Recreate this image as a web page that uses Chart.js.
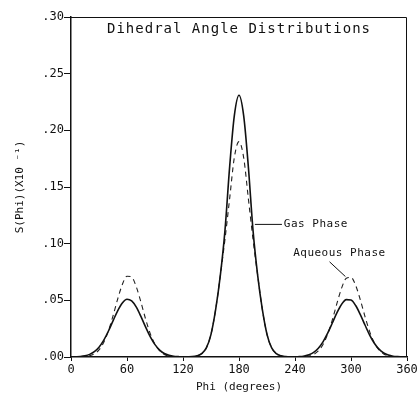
<!DOCTYPE html>
<html>
<head>
<meta charset="utf-8">
<script src="https://cdn.jsdelivr.net/npm/chart.js@4"></script>
<style>
  html, body { margin: 0; padding: 0; background: #fff; }
  #wrap { width: 420px; height: 394px; }
</style>
</head>
<body>
<div id="wrap"><canvas id="dihedralChart" width="420" height="394"></canvas></div>
<script>
// Phi in degrees, 5 degree steps
const phi = [0,5,10,15,20,25,30,35,40,45,50,55,60,65,70,75,80,85,90,95,100,105,110,115,120,
  125,130,135,140,145,150,155,160,165,170,175,180,185,190,195,200,205,210,215,220,225,230,235,240,
  245,250,255,260,265,270,275,280,285,290,295,300,305,310,315,320,325,330,335,340,345,350,355,360];

const gasPhase = [0.0001,0.0002,0.0004,0.001,0.0023,0.0047,0.0087,0.0147,0.0227,0.0319,0.0408,0.0477,0.051,
  0.0495,0.044,0.0356,0.0263,0.0177,0.0109,0.0061,0.0031,0.0015,0.0006,0.0003,0.0001,
  0.0002,0.0003,0.001,0.003,0.008,0.02,0.042,0.072,0.112,0.168,0.213,0.231,0.213,0.168,0.112,0.072,0.042,0.02,0.008,0.003,0.001,0.0003,0.0001,0.0001,
  0.0003,0.0009,0.002,0.0041,0.0078,0.0134,0.021,0.030,0.0392,0.0466,0.0506,0.0502,0.0454,0.0374,0.0282,0.0193,0.0121,0.0069,0.0036,0.0017,0.0007,0.0003,0.0001,0.0001];

const aqueousPhase = [0,0,0.0001,0.0004,0.0011,0.0028,0.0063,0.0127,0.0228,0.0362,0.0511,0.064,0.0713,
  0.0705,0.0618,0.0482,0.0333,0.0204,0.0111,0.0054,0.0023,0.0009,0.0003,0.0001,0.0001,
  0.0002,0.0003,0.001,0.003,0.008,0.02,0.042,0.072,0.104,0.140,0.176,0.190,0.176,0.140,0.104,0.072,0.042,0.02,0.008,0.003,0.001,0.0003,0.0001,0,
  0.0001,0.0003,0.0009,0.0023,0.0053,0.011,0.0202,0.0328,0.0475,0.061,0.0695,0.0703,0.0632,0.0504,0.0357,0.0224,0.0125,0.0062,0.0027,0.0011,0.0004,0.0001,0,0];

const xTicks = [0, 60, 120, 180, 240, 300, 360];
const yTicks = [0, 0.05, 0.10, 0.15, 0.20, 0.25, 0.30];

const FONT = "'DejaVu Sans Mono', monospace";

// frame, title and the two leader labels
const decorations = {
  id: 'decorations',
  afterDraw(chart) {
    const { ctx, chartArea: a, scales: { x, y } } = chart;
    ctx.save();
    ctx.strokeStyle = '#111';
    ctx.lineWidth = 1;
    ctx.beginPath();
    ctx.moveTo(a.left, a.top + 0.5);
    ctx.lineTo(a.right - 0.5, a.top + 0.5);
    ctx.lineTo(a.right - 0.5, a.bottom);
    ctx.stroke();

    ctx.fillStyle = '#111';
    ctx.font = '14px ' + FONT;
    ctx.letterSpacing = '1px';
    ctx.textAlign = 'center';
    ctx.textBaseline = 'middle';
    ctx.fillText('Dihedral Angle Distributions', (a.left + a.right) / 2, a.top + 12);

    ctx.font = '11px ' + FONT;
    ctx.letterSpacing = '0.5px';
    ctx.textAlign = 'left';
    // Gas Phase leader
    ctx.beginPath();
    ctx.moveTo(x.getPixelForValue(197), y.getPixelForValue(0.117));
    ctx.lineTo(x.getPixelForValue(226), y.getPixelForValue(0.117));
    ctx.stroke();
    ctx.fillText('Gas Phase', x.getPixelForValue(228), y.getPixelForValue(0.117));
    // Aqueous Phase leader
    ctx.beginPath();
    ctx.moveTo(x.getPixelForValue(277), y.getPixelForValue(0.084));
    ctx.lineTo(x.getPixelForValue(294), y.getPixelForValue(0.071));
    ctx.stroke();
    ctx.fillText('Aqueous Phase', x.getPixelForValue(238), y.getPixelForValue(0.092));
    ctx.restore();
  }
};

new Chart(document.getElementById('dihedralChart'), {
  type: 'line',
  data: {
    datasets: [
      {
        label: 'Gas Phase',
        data: phi.map((p, i) => ({ x: p, y: gasPhase[i] })),
        borderColor: '#111',
        borderWidth: 1.6,
        pointRadius: 0,
        cubicInterpolationMode: 'monotone'
      },
      {
        label: 'Aqueous Phase',
        data: phi.map((p, i) => ({ x: p, y: aqueousPhase[i] })),
        borderColor: '#222',
        borderWidth: 1.1,
        borderDash: [5, 4],
        pointRadius: 0,
        cubicInterpolationMode: 'monotone'
      }
    ]
  },
  options: {
    responsive: false,
    animation: false,
    layout: { padding: { top: 17, right: 13, left: 0, bottom: 0 } },
    plugins: { legend: { display: false }, tooltip: { enabled: false } },
    scales: {
      x: {
        type: 'linear',
        min: 0, max: 360,
        afterBuildTicks: s => { s.ticks = xTicks.map(v => ({ value: v })); },
        afterFit: s => { s.height = 37; },
        grid: { drawOnChartArea: false, tickLength: 4, color: '#111' },
        border: { color: '#111', width: 1.5 },
        ticks: { color: '#111', font: { family: FONT, size: 12 }, padding: 2, maxRotation: 0 },
        title: { display: true, text: 'Phi (degrees)', color: '#111', font: { family: FONT, size: 11 }, padding: { top: 0, bottom: 0 } }
      },
      y: {
        min: 0, max: 0.30,
        afterBuildTicks: s => { s.ticks = yTicks.map(v => ({ value: v })); },
        afterFit: s => { s.width = 71; },
        grid: { drawOnChartArea: false, tickLength: 7, color: '#111' },
        border: { color: '#111', width: 1.5 },
        ticks: {
          color: '#111', font: { family: FONT, size: 12 }, padding: 0,
          callback: v => v.toFixed(2).replace(/^0/, '')
        },
        title: { display: true, text: 'S(Phi)(X10 ⁻¹)', color: '#111', font: { family: FONT, size: 11 }, padding: { top: 14, bottom: 0 } }
      }
    }
  },
  plugins: [decorations]
});
</script>
</body>
</html>
